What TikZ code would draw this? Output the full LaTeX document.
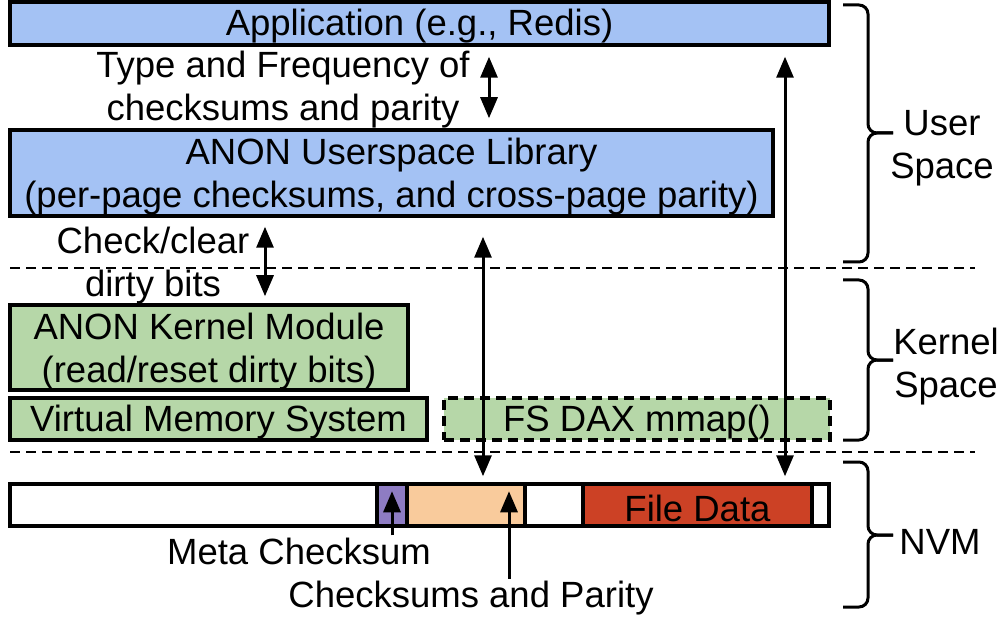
\documentclass[tikz,border=0pt]{standalone}
\usepackage{fontspec}
\setmainfont{Liberation Sans}
\usetikzlibrary{arrows.meta}
\definecolor{ublue}{HTML}{A4C2F4}
\definecolor{kgreen}{HTML}{B6D7A8}
\definecolor{mpurple}{HTML}{8E7CC3}
\definecolor{corange}{HTML}{F9CB9C}
\definecolor{fred}{HTML}{CC4125}
\begin{document}
\begin{tikzpicture}[x=1pt,y=-1pt,
  font=\fontsize{36.5}{43}\selectfont,
  box/.style={draw, line width=3.5pt, inner sep=0pt},
  lbl/.style={inner sep=0pt, align=center},
  seg/.style={draw, line width=3.5pt, inner sep=0pt, minimum height=42pt},
  darr/.style={line width=3pt, {Triangle[length=21pt,width=17pt]}-{Triangle[length=21pt,width=17pt]}},
  arr/.style={line width=3pt, -{Triangle[length=21pt,width=17pt]}},
  sep/.style={line width=2pt, dash pattern=on 10pt off 6pt},
  bracepath/.style={line width=3pt, rounded corners=9pt}]
\useasboundingbox (0,0) rectangle (1003,617);

% boxes
\node[box, fill=ublue, minimum width=819pt, minimum height=43pt] (app) at (419.5,23.5) {};
\node[lbl] (appt) at ([yshift=-3pt]app.center) {Application (e.g., Redis)};
\node[box, fill=ublue, minimum width=763pt, minimum height=86pt] (lib) at (391.5,173) {};
\node[lbl] (libt) at ([yshift=-4pt]lib.center) {ANON Userspace Library\\(per-page checksums, and cross-page parity)};
\node[box, fill=kgreen, minimum width=398pt, minimum height=85pt] (kmod) at (209,347.5) {};
\node[lbl] (kmodt) at ([yshift=-4pt]kmod.center) {ANON Kernel Module\\(read/reset dirty bits)};
\node[box, fill=kgreen, minimum width=417pt, minimum height=42pt] (vms) at (218.5,419) {};
\node[lbl] (vmst) at ([yshift=-3pt]vms.center) {Virtual Memory System};
\node[box, fill=kgreen, dash pattern=on 10pt off 6pt, minimum width=386pt, minimum height=42pt] (dax) at (637,419) {};
\node[lbl] (daxt) at ([yshift=-3pt]dax.center) {FS DAX mmap()};

% NVM bar
\node[seg, fill=white, minimum width=367pt] (s0) at (193.5,505) {};
\node[seg, fill=mpurple, minimum width=30pt] (meta) at (392,505) {};
\node[seg, fill=corange, minimum width=118pt] (cs) at (466,505) {};
\node[seg, fill=white, minimum width=58pt] (s1) at (554,505) {};
\node[seg, fill=fred, minimum width=229pt] (fd) at (697.5,505) {};
\node[seg, fill=white, minimum width=17pt] (s2) at (820.5,505) {};
\node[lbl] (fdt) at ([yshift=-3pt]fd.center) {File Data};

% labels
\node[lbl] (tf) at (283,89.5) {Type and Frequency of\\checksums and parity};
\node[lbl] (cc) at (153,266) {Check/clear\\dirty bits};
\node[lbl] (ml) at (299,551) {Meta Checksum};
\node[lbl] (cpl) at (471,598) {Checksums and Parity};
\node[lbl] (us) at (942,148) {User\\Space};
\node[lbl] (ks) at (946,367) {Kernel\\Space};
\node[lbl] (nv) at (940,542) {NVM};

% separators
\coordinate (d1a) at (10,268); \coordinate (d1b) at (975,268);
\coordinate (d2a) at (10,452); \coordinate (d2b) at (975,452);
\draw[sep] (d1a) -- (d1b);
\draw[sep] (d2a) -- (d2b);

% arrow columns
\coordinate (xa) at (489,0);
\coordinate (xb) at (265,0);
\coordinate (xc) at (483,0);
\coordinate (xd) at (785,0);
\coordinate (xe) at (509,0);
\draw[darr] ([yshift=-10pt]app.south -| xa) -- ([yshift=10pt]lib.north -| xa);
\draw[darr] ([yshift=-9pt]lib.south -| xb) -- ([yshift=7pt]kmod.north -| xb);
\draw[darr] ([yshift=-19pt]lib.south -| xc) -- ([yshift=6pt]cs.north -| xc);
\draw[darr] ([yshift=-10pt]app.south -| xd) -- ([yshift=6pt]fd.north -| xd);

% pointer arrows
\draw[arr] ([yshift=2pt]ml.north -| meta.center) -- ([yshift=-9pt]meta.north);
\draw[arr] ([yshift=2pt]cpl.north -| xe) -- ([yshift=-9pt]cs.north -| xe);

% braces
\draw[bracepath] (843,5) -- (868,5) -- (868,133) -- (893,133);
\draw[bracepath] (843,262) -- (868,262) -- (868,133) -- (893,133);
\draw[bracepath] (843,280) -- (868,280) -- (868,360) -- (893,360);
\draw[bracepath] (843,440) -- (868,440) -- (868,360) -- (893,360);
\draw[bracepath] (843,462) -- (868,462) -- (868,535) -- (893,535);
\draw[bracepath] (843,607) -- (868,607) -- (868,535) -- (893,535);
\end{tikzpicture}
\end{document}
